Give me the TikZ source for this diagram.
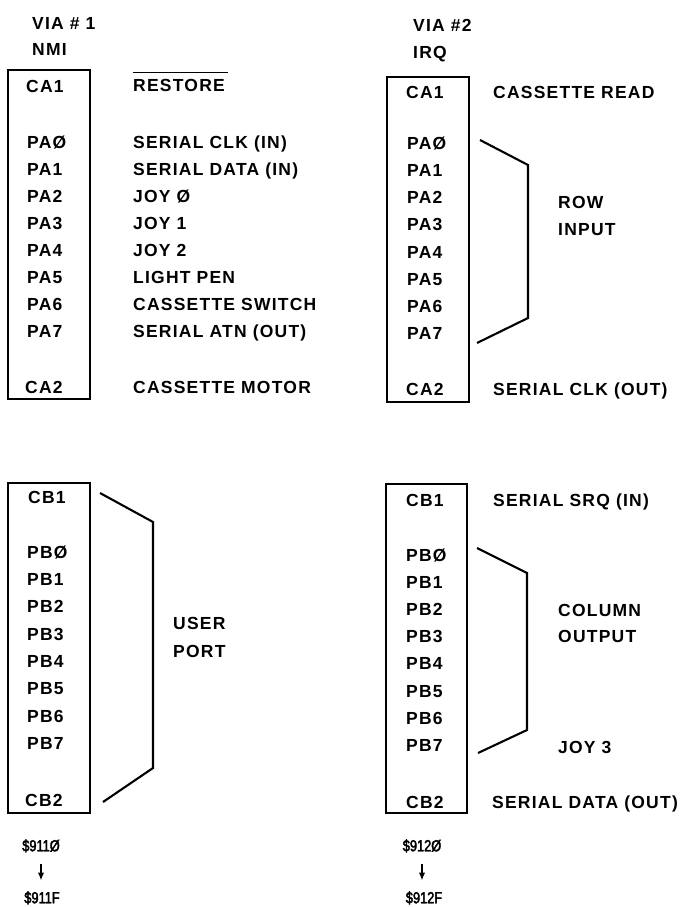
\documentclass[tikz,border=0pt]{standalone}
\usepackage{fontspec}
\setmainfont{Liberation Sans}[LetterSpace=7]
\newfontfamily\addrfont{Liberation Sans}[FakeStretch=0.8, FakeBold=2.5]
\usetikzlibrary{arrows.meta}

\begin{document}
\begin{tikzpicture}[
        x=1pt, y=-1pt,
        every node/.style={inner sep=0pt, text height=12.5pt, text depth=0pt,
            font=\bfseries\fontsize{17.5}{20}\selectfont},
        chip/.style={draw, line width=2.1pt},
        pin/.style={anchor=west},
        sig/.style={anchor=west},
        addr/.style={anchor=center, font=\addrfont\fontsize{16}{18}\selectfont},
        brak/.style={line width=2.1pt, line join=miter},
        down/.style={-{Latex[length=8pt,width=6.5pt]}, line width=1.8pt,
            shorten <=13pt, shorten >=10pt}
    ]
    \useasboundingbox (0,0) rectangle (691,907);

    % ================= VIA #1, port A =================
    \node[sig] (via1) at (32,23) {VIA \# 1};
    \node[sig] (nmi) at (32,49) {NMI};
    \draw[chip] (8,70) rectangle (90,399);
    \node[pin] (v1ca1) at (26,86) {CA1};
    \node[pin] (v1ca2) at (25,387) {CA2};
    \foreach \n/\t/\y in {0/Ø/142,1/1/169,2/2/196,3/3/223,4/4/250,5/5/277,6/6/304,7/7/331}
    \node[pin] (v1pa\n) at (27,\y) {PA\t};

    \node[sig] (restore) at (133,85) {RESTORE};
    \draw[line width=1.5pt] ([yshift=6pt]restore.north west) -- ([yshift=6pt,xshift=3pt]restore.north east);
    \foreach \n/\t in {0/SERIAL CLK (IN),1/SERIAL DATA (IN),2/JOY Ø,3/JOY 1,4/JOY 2,
            5/LIGHT PEN,6/CASSETTE SWITCH,7/SERIAL ATN (OUT)}
    \node[sig] (v1sa\n) at (133,0 |- v1pa\n) {\t};
    \node[sig] (motor) at (133,387) {CASSETTE MOTOR};

    % ================= VIA #2, port A =================
    \node[sig] (via2) at (413,25) {VIA \#2};
    \node[sig] (irq) at (413,52) {IRQ};
    \draw[chip] (387,77) rectangle (469,402);
    \node[pin] (v2ca1) at (406,92) {CA1};
    \node[pin] (v2ca2) at (406,389) {CA2};
    \foreach \n/\t/\y in {0/Ø/143,1/1/170,2/2/197,3/3/224,4/4/252,5/5/279,6/6/306,7/7/333}
    \node[pin] (v2pa\n) at (407,\y) {PA\t};

    \node[sig] (casread) at (493,92) {CASSETTE READ};
    \draw[brak] (480,140) -- (528,165) -- (528,318) -- (477,343);
    \node[sig] (row) at (558,202) {ROW};
    \node[sig] (input) at (558,229) {INPUT};
    \node[sig] (clkout) at (493,389) {SERIAL CLK (OUT)};

    % ================= VIA #1, port B =================
    \draw[chip] (8,483) rectangle (90,813);
    \node[pin] (v1cb1) at (28,497) {CB1};
    \node[pin] (v1cb2) at (25,800) {CB2};
    \foreach \n/\t/\y in {0/Ø/552,1/1/579,2/2/606,3/3/634,4/4/661,5/5/688,6/6/716,7/7/743}
    \node[pin] (v1pb\n) at (27,\y) {PB\t};

    \draw[brak] (100,493) -- (153,522) -- (153,768) -- (103,802);
    \node[sig] (user) at (173,623) {USER};
    \node[sig] (port) at (173,651) {PORT};

    \node[addr] (v1lo) at (41,845) {\$911Ø};
    \node[addr] (v1hi) at (42,897) {\$911F};
    \draw[down] (v1lo.south) -- (v1lo.south |- v1hi.north);

    % ================= VIA #2, port B =================
    \draw[chip] (386,484) rectangle (467,813);
    \node[pin] (v2cb1) at (406,500) {CB1};
    \node[pin] (v2cb2) at (406,802) {CB2};
    \foreach \n/\t/\y in {0/Ø/555,1/1/582,2/2/609,3/3/636,4/4/663,5/5/691,6/6/718,7/7/745}
    \node[pin] (v2pb\n) at (406,\y) {PB\t};

    \node[sig] (srq) at (493,500) {SERIAL SRQ (IN)};
    \draw[brak] (477,548) -- (527,573) -- (527,730) -- (478,753);
    \node[sig] (column) at (558,610) {COLUMN};
    \node[sig] (output) at (558,636) {OUTPUT};
    \node[sig] (joy3) at (558,747) {JOY 3};
    \node[sig] (dataout) at (492,802) {SERIAL DATA (OUT)};

    \node[addr] (v2lo) at (422,845) {\$912Ø};
    \node[addr] (v2hi) at (424,897) {\$912F};
    \draw[down] (v2lo.south) -- (v2lo.south |- v2hi.north);
\end{tikzpicture}
\end{document}
